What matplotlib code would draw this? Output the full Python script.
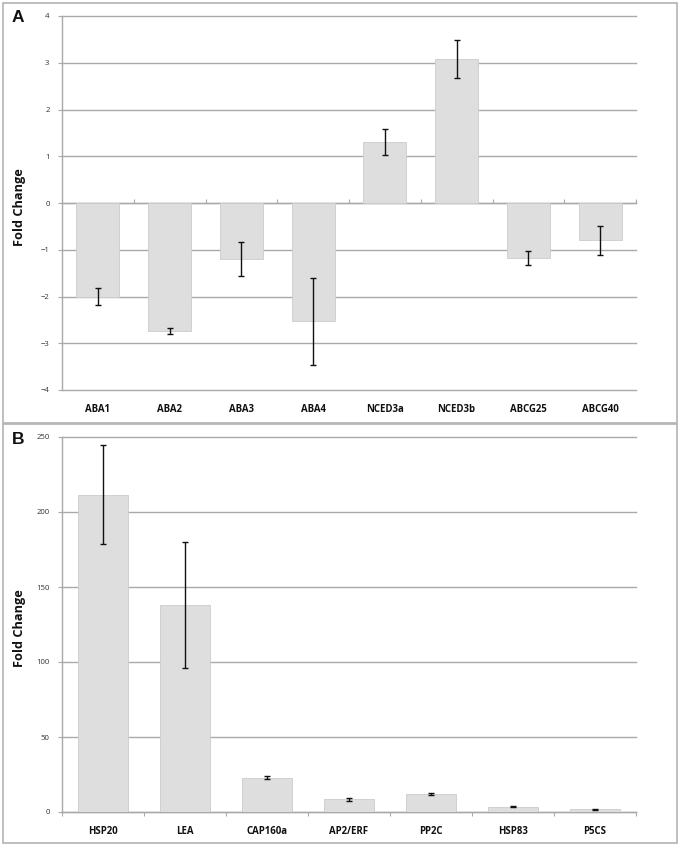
import matplotlib
matplotlib.use("Agg")
import matplotlib.pyplot as plt
from matplotlib.patches import Rectangle
import numpy as np

# ---------------- data ----------------
genes_a = ["ABA1", "ABA2", "ABA3", "ABA4", "NCED3a", "NCED3b", "ABCG25", "ABCG40"]
fold_a = [-2.0, -2.74, -1.2, -2.53, 1.3, 3.08, -1.18, -0.8]
err_a = [0.18, 0.07, 0.36, 0.93, 0.28, 0.41, 0.15, 0.31]
yticks_a = [-4, -3, -2, -1, 0, 1, 2, 3, 4]

genes_b = ["HSP20", "LEA", "CAP160a", "AP2/ERF", "PP2C", "HSP83", "P5CS"]
fold_b = [211.5, 138.0, 23.0, 8.5, 12.2, 3.6, 1.8]
err_b = [33.0, 42.0, 1.0, 0.9, 0.6, 0.4, 0.2]
yticks_b = [0, 50, 100, 150, 200, 250]

# ---------------- style ----------------
W, H = 680, 848
FONT = ["Open Sans", "DejaVu Sans"]
plt.rcParams["font.family"] = FONT
BAR = "#DEDEDE"
BAR_EDGE = "#CCCCCC"
GRID = "#A9A9A9"
FRAME = "#B4B4B4"

fig = plt.figure(figsize=(W / 100, H / 100), dpi=100)
fig.patch.set_facecolor("white")


def px_axes(x0, y0, x1, y1):
    return fig.add_axes([x0 / W, 1 - y1 / H, (x1 - x0) / W, (y1 - y0) / H])


def frame(x0, y0, x1, y1):
    fig.add_artist(Rectangle((x0 / W, 1 - y1 / H), (x1 - x0) / W, (y1 - y0) / H,
                             transform=fig.transFigure, fill=False,
                             edgecolor=FRAME, lw=1.2))


def panel(ax, genes, vals, errs, yticks, letter, letter_xy):
    n = len(genes)
    x = np.arange(n)
    ax.set_xlim(-0.5, n - 0.5)
    ax.set_ylim(yticks[0], yticks[-1])
    ax.set_yticks(yticks)
    ax.yaxis.grid(True, color=GRID, lw=1.0)
    for gl in ax.get_ygridlines():
        gl.set_clip_on(False)
    ax.set_axisbelow(True)
    ax.bar(x, vals, width=0.6, color=BAR, edgecolor=BAR_EDGE, lw=0.6, zorder=2)
    ax.errorbar(x, vals, yerr=errs, fmt="none", ecolor="#111111",
                elinewidth=1.0, capsize=2.0, capthick=1.0, zorder=3)
    for s in ["top", "right", "bottom"]:
        ax.spines[s].set_visible(False)
    ax.spines["left"].set_color(GRID)
    ax.spines["left"].set_linewidth(1.0)
    # gene labels at the bottom of the plot
    ax.set_xticks(x)
    ax.set_xticklabels(genes, fontsize=6.9, fontweight="bold", color="#111111")
    ax.tick_params(axis="x", length=0, pad=10)
    ax.tick_params(axis="y", direction="out", length=3, width=0.8, color=GRID,
                   labelsize=5.6, labelcolor="#333333", pad=6)
    # zero line with category boundary ticks
    zero_frac = (0 - yticks[0]) / (yticks[-1] - yticks[0])
    sec = ax.secondary_xaxis(zero_frac)
    sec.set_xticks(np.arange(n + 1) - 0.5)
    sec.set_xticklabels([])
    sec.tick_params(direction="out", length=3, width=0.8, color=GRID)
    sec.spines["bottom"].set_color(GRID)
    sec.spines["bottom"].set_linewidth(1.0)
    ax.set_ylabel("Fold Change", fontsize=9.2, fontweight="bold", color="#111111")
    ax.yaxis.set_label_coords(-0.062, 0.49)
    fig.text(letter_xy[0] / W, 1 - letter_xy[1] / H, letter, fontsize=12.5,
             fontweight="bold", ha="center", va="center", color="#111111",
             family=["Liberation Sans", "DejaVu Sans"])


frame(3, 3, 677, 423)
frame(3, 424, 677, 843)

axA = px_axes(62, 16, 636, 390)
panel(axA, genes_a, fold_a, err_a, yticks_a, "A", (18, 17))

axB = px_axes(62, 437, 636, 812)
panel(axB, genes_b, fold_b, err_b, yticks_b, "B", (18, 440))

fig.savefig("out.png", dpi=100, facecolor="white")
